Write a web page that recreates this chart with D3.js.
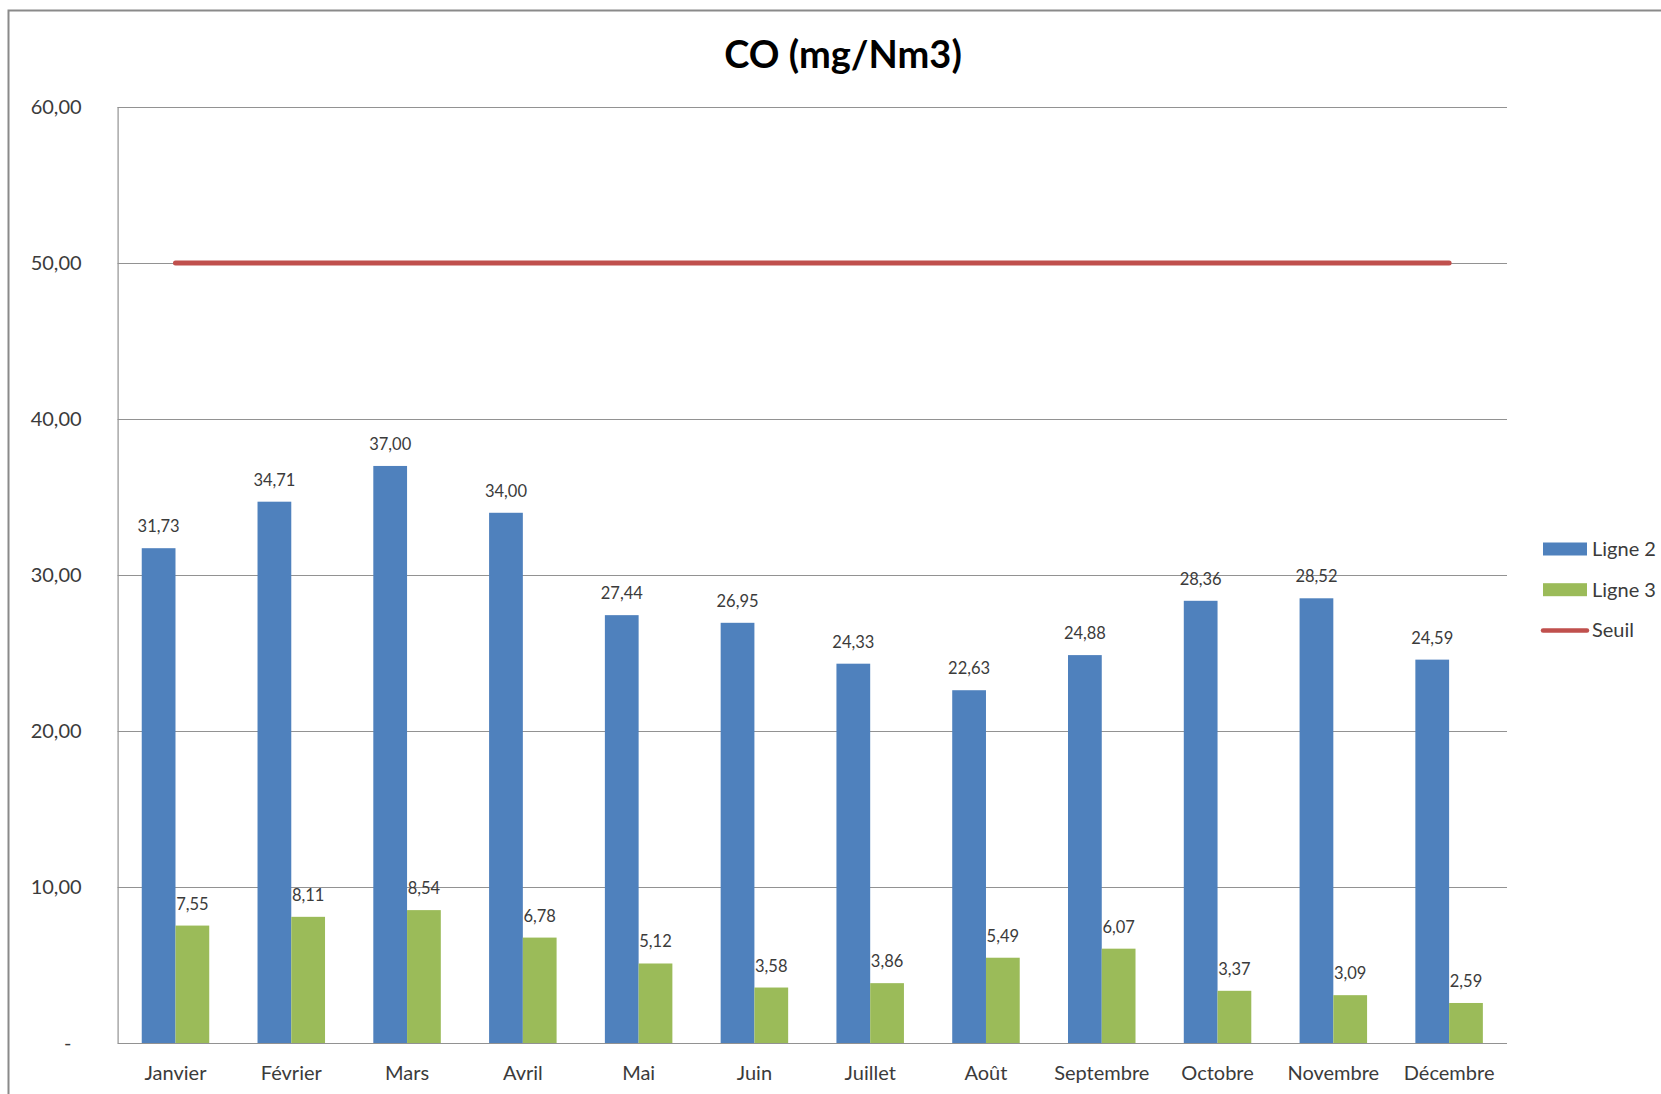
<!DOCTYPE html>
<html lang="fr">
<head>
<meta charset="utf-8">
<title>CO (mg/Nm3)</title>
<script src="https://cdn.jsdelivr.net/npm/d3@7/dist/d3.min.js"></script>
<style>
  html, body { margin: 0; padding: 0; background: #ffffff; }
  svg { display: block; font-family: Lato, "Open Sans", sans-serif; }
</style>
</head>
<body>
<svg id="chart" width="1661" height="1094"></svg>
<script>
// Monthly CO concentrations (mg/Nm3) per incineration line, with the regulatory threshold
const months = ["Janvier", "Février", "Mars", "Avril", "Mai", "Juin",
                "Juillet", "Août", "Septembre", "Octobre", "Novembre", "Décembre"];
const ligne2 = [31.73, 34.71, 37.00, 34.00, 27.44, 26.95, 24.33, 22.63, 24.88, 28.36, 28.52, 24.59];
const ligne3 = [7.55, 8.11, 8.54, 6.78, 5.12, 3.58, 3.86, 5.49, 6.07, 3.37, 3.09, 2.59];
const seuil  = [50, 50, 50, 50, 50, 50, 50, 50, 50, 50, 50, 50];
const seriesNames = ["Ligne 2", "Ligne 3"];
const yTicks = [0, 10, 20, 30, 40, 50, 60];
const chartTitle = "CO (mg/Nm3)";

const colors = { "Ligne 2": "#4F81BD", "Ligne 3": "#9BBB59", "Seuil": "#C0504D" };
const textColor = "#3b3b3b";
const gridColor = "#929292";

const svg = d3.select("#chart");
const W = 1661, H = 1094;
const plot = { left: 117.6, right: 1507, top: 107, bottom: 1043.4 };

const frFmt = v => v === 0 ? "-" : v.toFixed(2).replace(".", ",");

// Outer chart frame
svg.append("path")
  .attr("d", `M8.5,${H} L8.5,10.5 L${W},10.5`)
  .attr("fill", "none")
  .attr("stroke", "#8a8a8a")
  .attr("stroke-width", 2);

// Scales
const x = d3.scaleBand()
  .domain(months)
  .range([plot.left, plot.right])
  .paddingInner(0.417)
  .paddingOuter(0.2085);

const xs = d3.scaleBand()
  .domain(seriesNames)
  .range([0, x.bandwidth()]);

const y = d3.scaleLinear()
  .domain([0, 60])
  .range([plot.bottom, plot.top]);

// Horizontal gridlines
svg.append("g")
  .selectAll("line")
  .data(yTicks.filter(t => t > 0))
  .join("line")
  .attr("x1", plot.left).attr("x2", plot.right)
  .attr("y1", d => Math.round(y(d)) + 0.5).attr("y2", d => Math.round(y(d)) + 0.5)
  .attr("stroke", gridColor)
  .attr("stroke-width", 1.2);

// Y axis labels
const yAxis = d3.axisLeft(y)
  .tickValues(yTicks)
  .tickFormat(frFmt)
  .tickSize(0)
  .tickPadding(36);
const gy = svg.append("g")
  .attr("transform", `translate(${plot.left},0)`)
  .call(yAxis);
gy.select(".domain").remove();
gy.selectAll("text")
  .attr("x", -36)
  .attr("font-size", 20)
  .attr("fill", textColor)
  .attr("font-family", "Lato, sans-serif");
gy.selectAll(".tick").filter(d => d === 0).select("text")
  .attr("x", -50)
  .attr("text-anchor", "middle");

// Axis lines
svg.append("line")
  .attr("x1", plot.left + 0.5).attr("x2", plot.left + 0.5)
  .attr("y1", plot.top).attr("y2", plot.bottom)
  .attr("stroke", gridColor).attr("stroke-width", 1.2);

// Bars
const rows = months.map((m, i) => ({ month: m, values: [
  { key: "Ligne 2", value: ligne2[i] },
  { key: "Ligne 3", value: ligne3[i] }
]}));

const groups = svg.append("g")
  .selectAll("g")
  .data(rows)
  .join("g")
  .attr("transform", d => `translate(${x(d.month)},0)`);

groups.selectAll("rect")
  .data(d => d.values)
  .join("rect")
  .attr("x", d => xs(d.key))
  .attr("y", d => y(d.value))
  .attr("width", xs.bandwidth())
  .attr("height", d => y(0) - y(d.value))
  .attr("fill", d => colors[d.key]);

groups.selectAll("text")
  .data(d => d.values)
  .join("text")
  .attr("x", d => xs(d.key) + xs.bandwidth() / 2)
  .attr("y", d => y(d.value) - 16)
  .attr("text-anchor", "middle")
  .attr("font-size", 16.5)
  .attr("fill", textColor)
  .text(d => frFmt(d.value));

// Bottom axis line
svg.append("line")
  .attr("x1", plot.left).attr("x2", plot.right)
  .attr("y1", Math.round(plot.bottom) + 0.5).attr("y2", Math.round(plot.bottom) + 0.5)
  .attr("stroke", gridColor).attr("stroke-width", 1.2);

// X axis labels
const xAxis = d3.axisBottom(x).tickSize(0).tickPadding(0);
const gx = svg.append("g")
  .attr("transform", `translate(0,${plot.bottom})`)
  .call(xAxis);
gx.select(".domain").remove();
gx.selectAll("text")
  .attr("y", 37)
  .attr("dy", 0)
  .attr("font-size", 20)
  .attr("fill", textColor)
  .attr("font-family", "Lato, sans-serif");

// Threshold line
const line = d3.line()
  .x((d, i) => x(months[i]) + x.bandwidth() / 2)
  .y(d => y(d));
svg.append("path")
  .datum(seuil)
  .attr("d", line)
  .attr("fill", "none")
  .attr("stroke", colors["Seuil"])
  .attr("stroke-width", 5)
  .attr("stroke-linecap", "round");

// Title
svg.append("text")
  .attr("x", 843)
  .attr("y", 68)
  .attr("text-anchor", "middle")
  .attr("font-size", 38)
  .attr("font-weight", "bold")
  .attr("fill", "#000")
  .text(chartTitle);

// Legend
const legend = svg.append("g").attr("transform", "translate(1543,549)");
const legendItems = ["Ligne 2", "Ligne 3", "Seuil"];
legendItems.forEach((name, i) => {
  const g = legend.append("g").attr("transform", `translate(0,${i * 40.7})`);
  if (name === "Seuil") {
    g.append("line")
      .attr("x1", 0).attr("x2", 44)
      .attr("y1", 0).attr("y2", 0)
      .attr("stroke", colors[name])
      .attr("stroke-width", 4.5)
      .attr("stroke-linecap", "round");
  } else {
    g.append("rect")
      .attr("x", 0).attr("y", -6.5)
      .attr("width", 44).attr("height", 13)
      .attr("fill", colors[name]);
  }
  g.append("text")
    .attr("x", 49)
    .attr("y", 0)
    .attr("dy", "0.35em")
    .attr("font-size", 20)
    .attr("fill", textColor)
    .text(name);
});
</script>
</body>
</html>
